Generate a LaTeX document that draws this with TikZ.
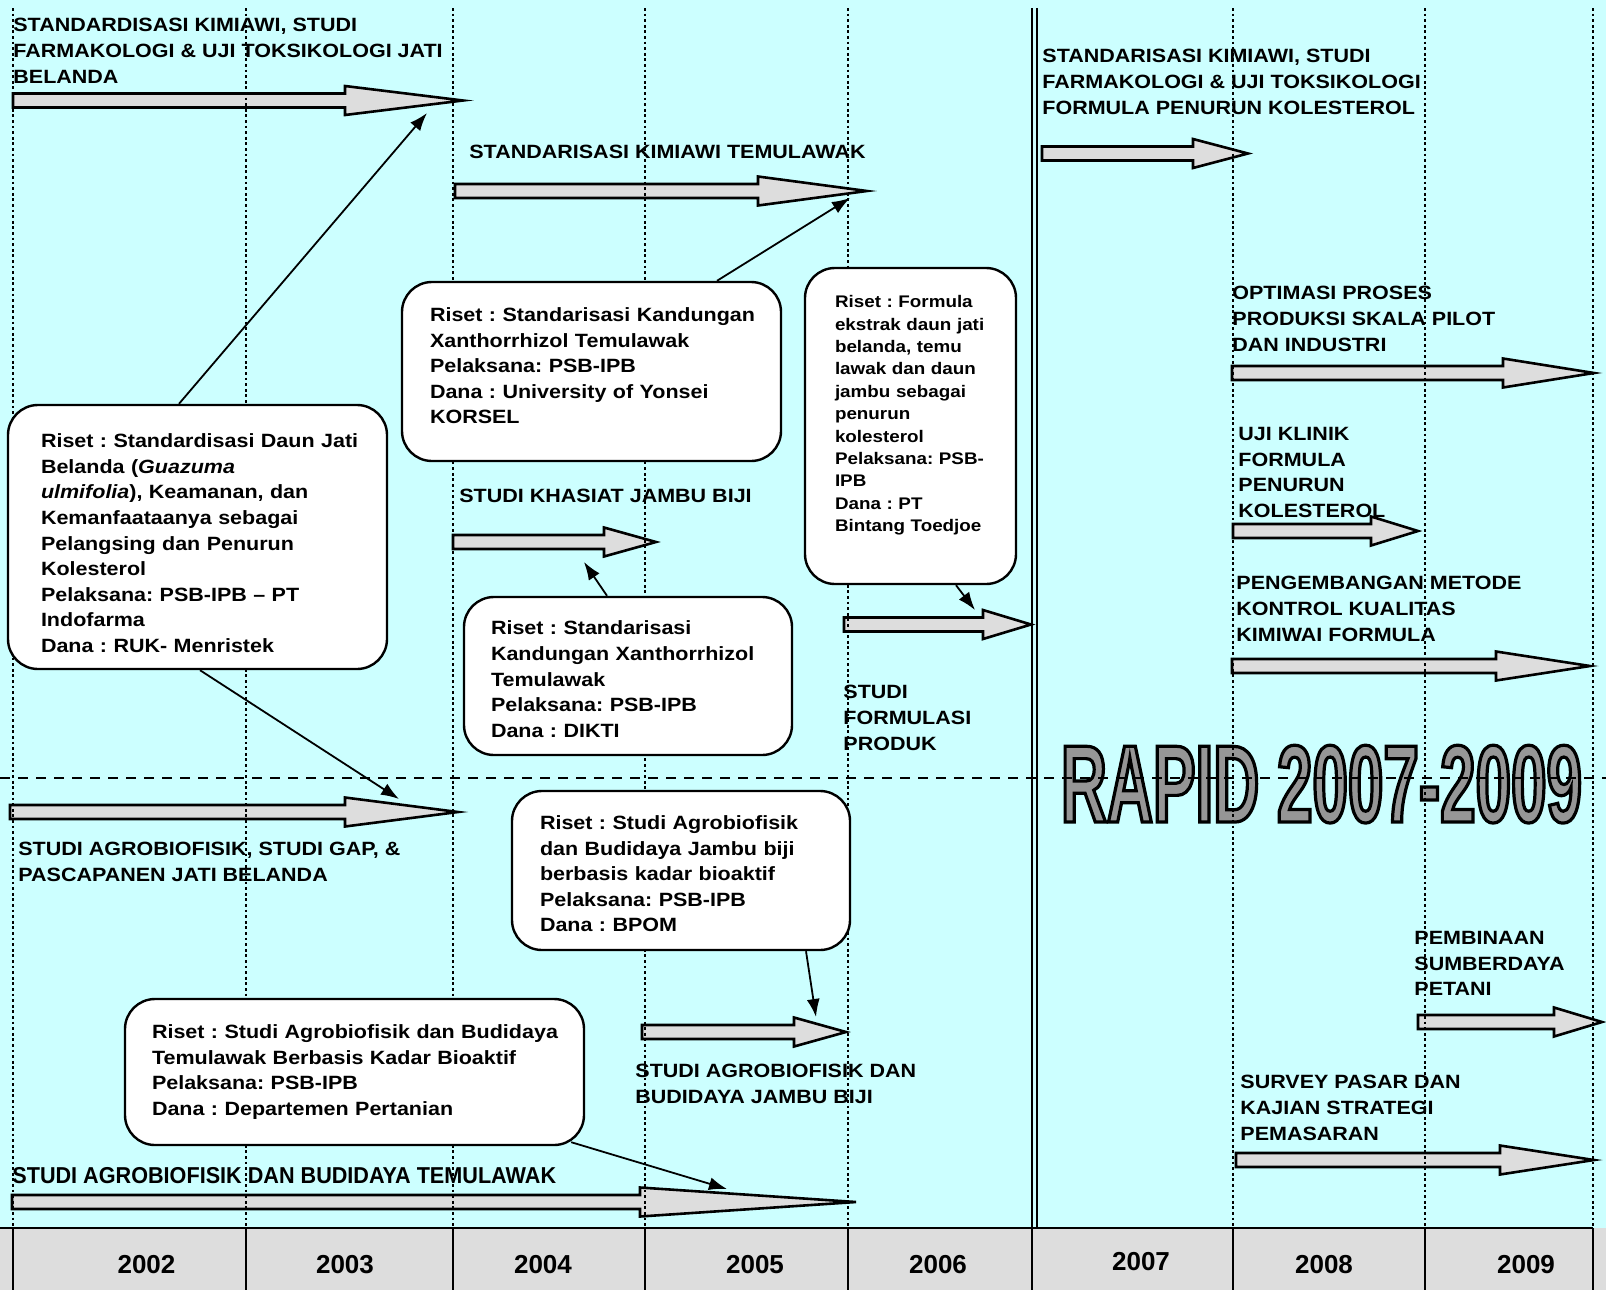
\documentclass[tikz,border=0pt]{standalone}
\usepackage{fontspec}
\setmainfont{Liberation Sans}[FakeStretch=1.12]
\newfontfamily\yearfont{Liberation Sans}
\newfontfamily\narrowfont{Liberation Sans}[FakeStretch=0.94]
\newfontfamily\rapidfont{Liberation Sans}[FakeStretch=0.58]
\usetikzlibrary{arrows.meta}
\frenchspacing

% box text, optional extra room above the first line
\newcommand{\risetlines}[2][0pt]{\begin{tabular}{@{}l@{}}\rule{0pt}{\dimexpr 9pt+#1\relax}#2\end{tabular}}
% filled text with a black outline
\newcommand{\outlined}[1]{\special{pdf:literal direct 2 Tr 1.6 w 0 0 0 RG}#1\special{pdf:literal direct 0 Tr}}
% block arrow: start x, head base x, tip x, centre y
\newcommand{\blockarrow}[4]{%
  \draw[blockarrow] (#1,#4-7) -- (#2,#4-7) -- (#2,#4-14.5) -- (#3,#4)
    -- (#2,#4+14.5) -- (#2,#4+7) -- (#1,#4+7) -- cycle;}

\tikzset{
  blockarrow/.style={draw=black, line width=1.3pt, fill=rp_gray},
  riset/.style={draw=black, line width=1.2pt, fill=white, rounded corners=15pt,
    inner xsep=14pt, inner ysep=3pt, font=\fontsize{9.6}{12.8}\selectfont\bfseries},
  tlabel/.style={inner sep=0pt, anchor=north west, align=left,
    font=\fontsize{9.6}{12.8}\selectfont\bfseries},
  link/.style={line width=0.9pt, -{Latex[length=9pt,width=6.5pt]}},
  gridline/.style={line width=1.2pt, dash pattern=on 1.4pt off 1.4pt},
  yearlbl/.style={font=\yearfont\bfseries\fontsize{13}{15}\selectfont},
}

\begin{document}
\begin{tikzpicture}[x=0.5pt,y=-0.5pt]

% ------------------------------------------------ roadmap colors
\definecolor{rp_cyan}{RGB}{204,255,255} %#CCFFFF
\definecolor{rp_gray}{RGB}{221,221,221} %#DDDDDD
\definecolor{rp_dark}{RGB}{150,150,150} %#969696

\useasboundingbox (0,0) rectangle (1606,1290);
\fill[rp_cyan] (0,0) rectangle (1606,1228);

% rapid
\node[anchor=base, inner sep=0pt, text=rp_dark, font=\rapidfont\bfseries\fontsize{55}{60}\selectfont]
  (rapid) at (1321.5,822) {\outlined{RAPID 2007-2009}};

% block arrows
\blockarrow{13}{345}{463}{100.5}
\blockarrow{455}{758}{867}{191}
\blockarrow{1042}{1193}{1248}{153.5}
\blockarrow{453}{604}{656}{542}
\blockarrow{844}{983}{1031}{624.5}
\blockarrow{1232}{1503}{1594}{373}
\blockarrow{1233}{1371}{1418}{531}
\blockarrow{1232}{1496}{1590}{666}
\blockarrow{10}{345}{458}{812}
\blockarrow{642}{794}{846}{1032}
\blockarrow{1418}{1554}{1602}{1022}
\blockarrow{1236}{1500}{1594}{1160}
\blockarrow{12}{640}{856}{1202}

% activity labels
\node[tlabel] (l1) at (13,18) {STANDARDISASI KIMIAWI, STUDI\\FARMAKOLOGI \& UJI TOKSIKOLOGI JATI\\BELANDA};
\node[tlabel] (l2) at (469,145) {STANDARISASI KIMIAWI TEMULAWAK};
\node[tlabel] (l3) at (1042,49) {STANDARISASI KIMIAWI, STUDI\\FARMAKOLOGI \& UJI TOKSIKOLOGI\\FORMULA PENURUN KOLESTEROL};
\node[tlabel] (l4) at (1232,286) {OPTIMASI PROSES\\PRODUKSI SKALA PILOT\\DAN INDUSTRI};
\node[tlabel] (l5) at (459,489) {STUDI KHASIAT JAMBU BIJI};
\node[tlabel] (l6) at (1238,427) {UJI KLINIK\\FORMULA\\PENURUN\\KOLESTEROL};
\node[tlabel] (l7) at (1236,576) {PENGEMBANGAN METODE\\KONTROL KUALITAS\\KIMIWAI FORMULA};
\node[tlabel] (l8) at (843,685) {STUDI\\FORMULASI\\PRODUK};
\node[tlabel] (l9) at (18,842) {STUDI AGROBIOFISIK, STUDI GAP, \&\\PASCAPANEN JATI BELANDA};
\node[tlabel] (l10) at (1414,931) {PEMBINAAN\\SUMBERDAYA\\PETANI};
\node[tlabel] (l11) at (635,1064) {STUDI AGROBIOFISIK DAN\\BUDIDAYA JAMBU BIJI};
\node[tlabel] (l12) at (1240,1075) {SURVEY PASAR DAN\\KAJIAN STRATEGI\\PEMASARAN};
\node[tlabel, font=\narrowfont\bfseries\fontsize{11.5}{13}\selectfont] (l13) at (12,1167) {STUDI AGROBIOFISIK DAN BUDIDAYA TEMULAWAK};

% grid lines
\foreach \x in {13,246,453,645,848,1233,1425,1593}
  \draw[gridline] (\x,8) -- (\x,1228);
\draw[line width=0.8pt, dash pattern=on 5pt off 4pt] (0,778) -- (1606,778);
\draw[line width=0.9pt] (1032,8) -- (1032,1228);
\draw[line width=0.9pt] (1037,8) -- (1037,1228);

% year bar
\fill[rp_gray] (0,1228) rectangle (1606,1290);
\draw[line width=1pt] (0,1228) -- (1593,1228);
\foreach \x in {13,246,453,645,848,1032,1233,1425,1593}
  \draw[line width=1pt] (\x,1228) -- (\x,1290);
\foreach \x/\y/\yr in {146.5/1265/2002,345/1265/2003,543/1265/2004,755/1265/2005,
                       938/1265/2006,1141/1262/2007,1324/1265/2008,1526/1265/2009}
  \node[yearlbl] (y\yr) at (\x,\y) {\yr};

% research boxes
\node[riset, inner xsep=16.5pt, text width=156.5pt, minimum height=132pt] (b1) at (197.5,537) {\risetlines[8pt]{%
  Riset : Standardisasi Daun Jati\\
  Belanda (\textit{Guazuma}\\
  \textit{ulmifolia}), Keamanan, dan\\
  Kemanfaataanya sebagai\\
  Pelangsing dan Penurun\\
  Kolesterol\\
  Pelaksana: PSB-IPB \textendash{} PT\\
  Indofarma\\
  Dana : RUK- Menristek}};
\node[riset, text width=161.5pt, minimum height=89.5pt] (b2) at (591.5,371.5) {\risetlines{%
  Riset : Standarisasi Kandungan\\
  Xanthorrhizol Temulawak\\
  Pelaksana: PSB-IPB\\
  Dana : University of Yonsei\\
  KORSEL\\[4pt]}};
\node[riset, inner xsep=15pt, text width=75.5pt, minimum height=158pt,
  font=\fontsize{8.4}{11.2}\selectfont\bfseries] (b3) at (910.5,426) {\risetlines{%
  Riset : Formula\\
  ekstrak daun jati\\
  belanda, temu\\
  lawak dan daun\\
  jambu sebagai\\
  penurun\\
  kolesterol\\
  Pelaksana: PSB-\\
  IPB\\
  Dana : PT\\
  Bintang Toedjoe\\[0.8pt]
  \mbox{}}};
\node[riset, inner xsep=13.5pt, text width=137pt, minimum height=79pt] (b4) at (628,676) {\risetlines[5pt]{%
  Riset : Standarisasi\\
  Kandungan Xanthorrhizol\\
  Temulawak\\
  Pelaksana: PSB-IPB\\
  Dana : DIKTI}};
\node[riset, text width=141pt, minimum height=79.5pt] (b5) at (681,870.5) {\risetlines[5pt]{%
  Riset : Studi Agrobiofisik\\
  dan Budidaya Jambu biji\\
  berbasis kadar bioaktif\\
  Pelaksana: PSB-IPB\\
  Dana : BPOM}};
\node[riset, inner xsep=13.5pt, text width=202.5pt, minimum height=73pt] (b6) at (354.5,1072) {\risetlines{%
  Riset : Studi Agrobiofisik dan Budidaya\\
  Temulawak Berbasis Kadar Bioaktif\\
  Pelaksana: PSB-IPB\\
  Dana : Departemen Pertanian}};

% connectors
\coordinate (hit1) at (427,113);
\coordinate (hit2) at (399,799);
\coordinate (hit3) at (850,198);
\coordinate (hit4) at (584,562);
\coordinate (hit5) at (975,610);
\coordinate (hit6) at (816,1017);
\coordinate (hit7) at (727,1189);
\draw[link] ([xshift=-9.25pt]b1.north) -- (hit1);
\draw[link] ([xshift=1.25pt]b1.south) -- (hit2);
\draw[link] ([xshift=62.75pt]b2.north) -- (hit3);
\draw[link] ([xshift=-10.5pt]b4.north) -- (hit4);
\draw[link] ([xshift=22.75pt]b3.south) -- (hit5);
\draw[link] ([xshift=62.5pt]b5.south) -- (hit6);
\draw[link] ([xshift=-7pt,yshift=2pt]b6.south east) -- (hit7);

\end{tikzpicture}
\end{document}
